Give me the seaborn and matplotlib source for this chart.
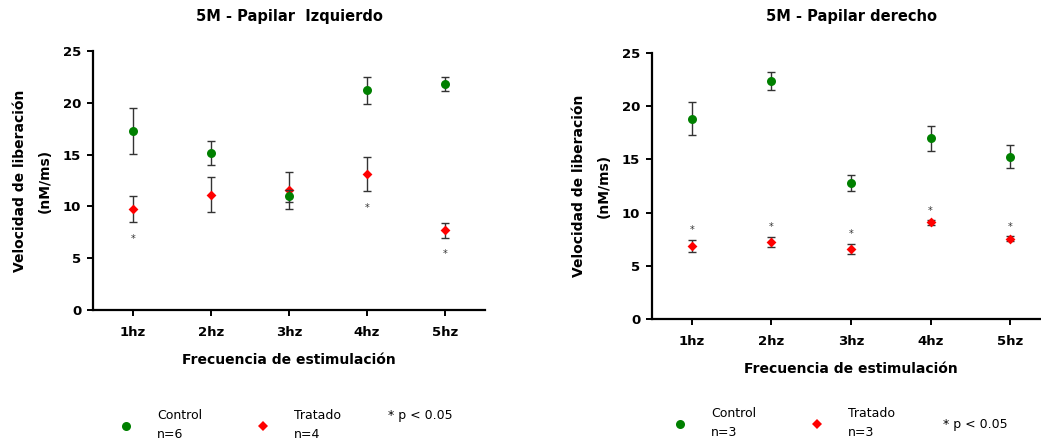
import numpy as np
import pandas as pd
import matplotlib
matplotlib.use("Agg")
import matplotlib.pyplot as plt
from matplotlib.lines import Line2D
import seaborn as sns

# ---- data -------------------------------------------------------------
frequencies = ["1hz", "2hz", "3hz", "4hz", "5hz"]

izq_control_mean = [17.25, 15.15, 11.0, 21.2, 21.8]
izq_control_sem = [2.2, 1.17, 0.57, 1.27, 0.68]
izq_tratado_mean = [9.75, 11.12, 11.55, 13.1, 7.68]
izq_tratado_sem = [1.3, 1.7, 1.8, 1.65, 0.71]
izq_signif = [True, False, False, True, True]
izq_n = (6, 4)

der_control_mean = [18.82, 22.35, 12.8, 16.97, 15.25]
der_control_sem = [1.54, 0.85, 0.75, 1.16, 1.07]
der_tratado_mean = [6.84, 7.25, 6.56, 9.07, 7.56]
der_tratado_sem = [0.57, 0.49, 0.47, 0.2, 0.2]
der_signif = [True, True, True, True, True]
der_n = (3, 3)

y_ticks = [0, 5, 10, 15, 20, 25]

# ---- style ------------------------------------------------------------
sns.set_style("ticks")
plt.rcParams.update({
    "font.family": ["DejaVu Sans"],
    "axes.linewidth": 1.6,
    "axes.edgecolor": "black",
    "axes.labelcolor": "black",
    "text.color": "black",
    "xtick.color": "black",
    "ytick.color": "black",
})

GREEN = "#008000"
RED = "#ff0000"
ERR = "#333333"


def draw_panel(ax, title, title_pad, ctrl_mean, ctrl_sem, trat_mean, trat_sem,
               signif, star_below, xlim):
    pos = np.arange(len(frequencies))
    ctrl = pd.DataFrame({"pos": pos, "valor": ctrl_mean})
    trat = pd.DataFrame({"pos": pos, "valor": trat_mean})

    # treated series first, control on top of it
    ax.errorbar(pos, trat_mean, yerr=trat_sem, fmt="none", ecolor=ERR,
                elinewidth=1.0, capsize=2.6, capthick=1.0, zorder=2)
    sns.scatterplot(data=trat, x="pos", y="valor", ax=ax, color=RED,
                    marker="D", s=25, linewidth=0, zorder=3)
    ax.errorbar(pos, ctrl_mean, yerr=ctrl_sem, fmt="none", ecolor=ERR,
                elinewidth=1.0, capsize=2.6, capthick=1.0, zorder=4)
    sns.scatterplot(data=ctrl, x="pos", y="valor", ax=ax, color=GREEN,
                    marker="o", s=42, linewidth=0, zorder=5)

    # significance marks
    for i, sig in enumerate(signif):
        if not sig:
            continue
        if star_below:
            y = trat_mean[i] - trat_sem[i]
            off = -12
        else:
            y = trat_mean[i] + trat_sem[i]
            off = 7
        ax.annotate("*", xy=(pos[i], y), xytext=(0, off),
                    textcoords="offset points", ha="center", va="center",
                    fontsize=7, color=ERR)

    ax.set_xlim(*xlim)
    ax.set_ylim(0, 25)
    ax.set_yticks(y_ticks)
    ax.set_xticks(pos, labels=frequencies)
    ax.tick_params(axis="both", length=4.5, width=1.4, labelsize=9.5)
    ax.tick_params(axis="x", pad=7)
    ax.tick_params(axis="y", pad=4)
    for lbl in ax.get_xticklabels() + ax.get_yticklabels():
        lbl.set_fontweight("bold")
    ax.set_xlabel("Frecuencia de estimulación", fontsize=10,
                  fontweight="bold", labelpad=10)
    ax.set_ylabel("Velocidad de liberación\n(nM/ms)", fontsize=10,
                  fontweight="bold", labelpad=8, linespacing=2.0)
    ax.set_title(title, fontsize=10.5, fontweight="bold", pad=title_pad)
    sns.despine(ax=ax)


def draw_legend(fig, x0, y0, n, colspacing, note_xy):
    handles = [
        Line2D([], [], linestyle="none", marker="o", color=GREEN,
               markersize=6.5, markeredgewidth=0),
        Line2D([], [], linestyle="none", marker="D", color=RED,
               markersize=5.0, markeredgewidth=0),
    ]
    labels = [f"Control\nn={n[0]}", f"Tratado\nn={n[1]}"]
    leg = fig.legend(handles, labels, loc="center left",
                     bbox_to_anchor=(x0, y0), ncol=2, frameon=False,
                     handlelength=1.0, handletextpad=1.95,
                     columnspacing=colspacing, fontsize=9,
                     borderaxespad=0, borderpad=0)
    for t in leg.get_texts():
        t.set_linespacing(1.6)
    fig.text(note_xy[0], note_xy[1], "* p < 0.05", fontsize=9,
             ha="left", va="center")


W, H = 1041, 444
fig = plt.figure(figsize=(W / 100, H / 100), dpi=100)

ax1 = fig.add_axes([93 / W, 1 - 310 / H, 392 / W, 259 / H])
draw_panel(ax1, "5M - Papilar  Izquierdo", 21.5,
           izq_control_mean, izq_control_sem, izq_tratado_mean, izq_tratado_sem,
           izq_signif, True, (-0.51, 4.51))

ax2 = fig.add_axes([652 / W, 1 - 319 / H, 398 / W, 266 / H])
draw_panel(ax2, "5M - Papilar derecho", 23,
           der_control_mean, der_control_sem, der_tratado_mean, der_tratado_sem,
           der_signif, False, (-0.5, 4.5))

draw_legend(fig, 120 / W, 1 - 425 / H, izq_n, 4.4, (388 / W, 1 - 415 / H))
draw_legend(fig, 674 / W, 1 - 423 / H, der_n, 4.4, (943 / W, 1 - 424 / H))

fig.savefig("out.png", dpi=100, facecolor="white")
